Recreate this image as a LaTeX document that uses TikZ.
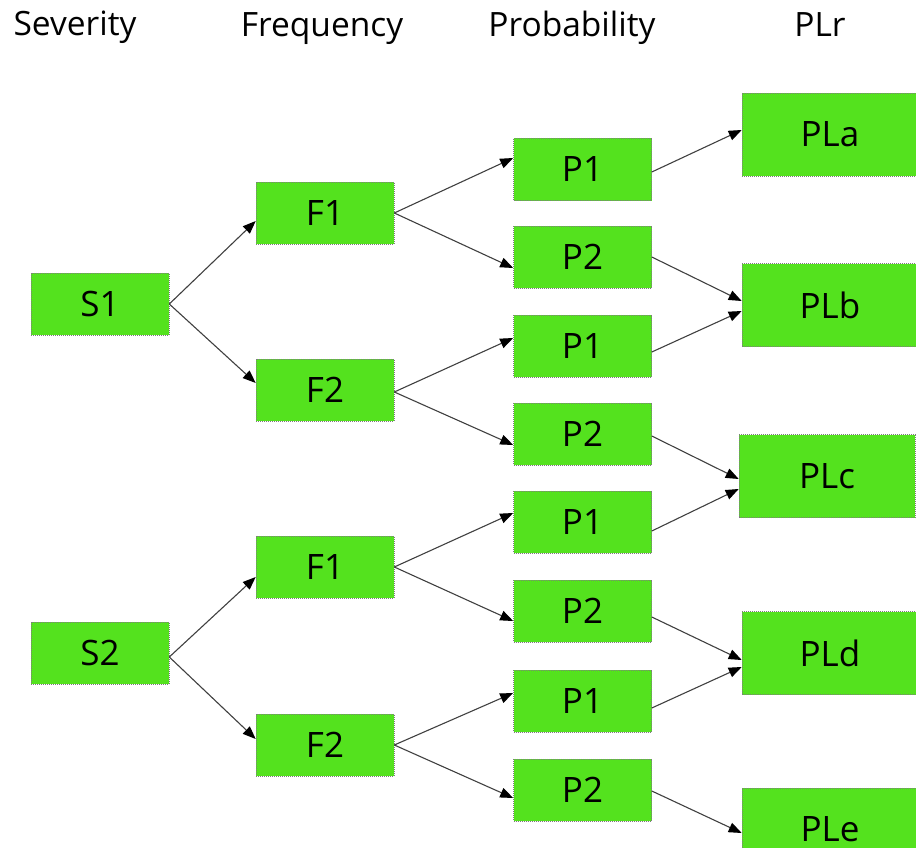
\documentclass[tikz,border=0pt]{standalone}
\usepackage{fontspec}
\setmainfont{Open Sans}
\usetikzlibrary{arrows.meta}
\definecolor{boxgreen}{RGB}{84,226,30}
\definecolor{boxedge}{RGB}{125,125,125}
\definecolor{linegray}{RGB}{64,64,64}

\begin{document}
\begin{tikzpicture}[x=1pt,y=-1pt,
  box/.style={draw=boxedge, dash pattern=on 1pt off 1pt, line width=0.6pt,
    fill=boxgreen, minimum width=138pt, minimum height=62pt, inner sep=0pt,
    font=\fontsize{35}{35}\selectfont, text depth=0pt},
  plbox/.style={box, minimum width=176pt, minimum height=83pt},
  head/.style={font=\fontsize{33.5}{33.5}\selectfont, anchor=base, inner sep=0pt},
  link/.style={draw=linegray, line width=1.1pt,
    -{Triangle[length=13pt,width=10pt,color=black]}}
]
\useasboundingbox (0,0) rectangle (916,848);

% column headings
\node[head] (hS) at (75,36) {Severity};
\node[head] (hF) at (322,37) {Frequency};
\node[head] (hP) at (572,37) {Probability};
\node[head] (hR) at (820,37) {PLr};

% severity
\node[box] (S1) at (100,304) {S1};
\node[box] (S2) at (100,653) {S2};

% frequency
\node[box] (F1a) at (325,213) {F1};
\node[box] (F2a) at (325,390) {F2};
\node[box] (F1b) at (325,567) {F1};
\node[box] (F2b) at (325,745) {F2};

% probability
\node[box] (P1a) at (582.5,169.5) {P1};
\node[box] (P2a) at (582.5,257) {P2};
\node[box] (P1b) at (582.5,346) {P1};
\node[box] (P2b) at (582.5,434) {P2};
\node[box] (P1c) at (582.5,522) {P1};
\node[box] (P2c) at (582.5,611) {P2};
\node[box] (P1d) at (582.5,701) {P1};
\node[box] (P2d) at (582.5,790) {P2};

% required performance level
\node[plbox] (PLa) at (830,134.5) {PLa};
\node[plbox] (PLb) at (830,305) {PLb};
\node[plbox] (PLc) at (827,476) {PLc};
\node[plbox] (PLd) at (830,653) {PLd};
\node[plbox] (PLe) at (830,829.5) {PLe};

% severity -> frequency
\draw[link] (S1.east) -- ([yshift=-8pt]F1a.west);
\draw[link] (S1.east) -- ([yshift=7pt]F2a.west);
\draw[link] ([yshift=-4pt]S2.east) -- ([yshift=-10pt]F1b.west);
\draw[link] ([yshift=-4pt]S2.east) -- ([yshift=6pt]F2b.west);

% frequency -> probability
\draw[link] (F1a.east) -- ([yshift=11.5pt]P1a.west);
\draw[link] (F1a.east) -- ([yshift=-11pt]P2a.west);
\draw[link] ([yshift=-2pt]F2a.east) -- ([yshift=8pt]P1b.west);
\draw[link] ([yshift=-2pt]F2a.east) -- ([yshift=-11pt]P2b.west);
\draw[link] (F1b.east) -- ([yshift=9pt]P1c.west);
\draw[link] (F1b.east) -- ([yshift=-10pt]P2c.west);
\draw[link] (F2b.east) -- ([yshift=8pt]P1d.west);
\draw[link] (F2b.east) -- ([yshift=-8pt]P2d.west);

% probability -> performance level
\draw[link] ([yshift=-2.5pt]P1a.east) -- ([yshift=4.5pt]PLa.west);
\draw[link] (P2a.east) -- ([yshift=4pt]PLb.west);
\draw[link] ([yshift=-6pt]P1b.east) -- ([yshift=-6pt]PLb.west);
\draw[link] ([yshift=-2pt]P2b.east) -- ([yshift=-3pt]PLc.west);
\draw[link] ([yshift=-9pt]P1c.east) -- ([yshift=-13pt]PLc.west);
\draw[link] ([yshift=-6pt]P2c.east) -- ([yshift=-7pt]PLd.west);
\draw[link] ([yshift=-7pt]P1d.east) -- ([yshift=-14pt]PLd.west);
\draw[link] ([yshift=-1pt]P2d.east) -- ([yshift=-3.5pt]PLe.west);
\end{tikzpicture}
\end{document}
